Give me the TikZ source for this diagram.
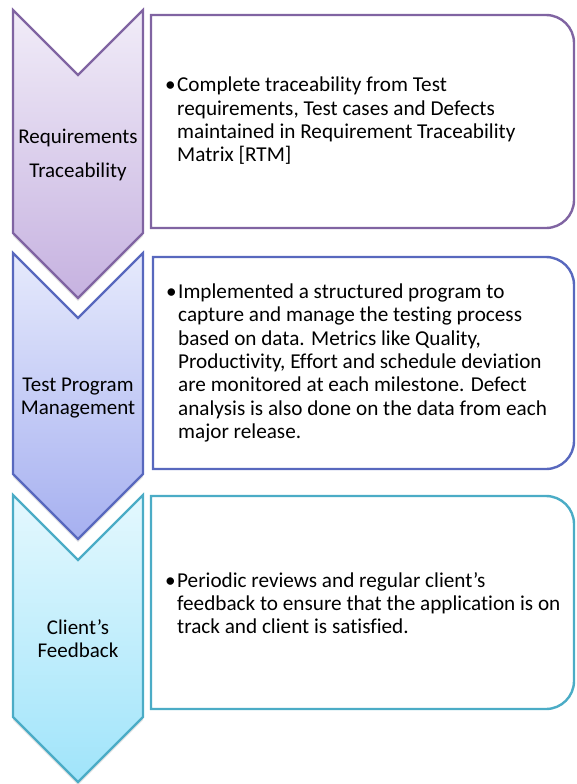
\documentclass[tikz,border=0pt]{standalone}
\usepackage{fontspec}
\setmainfont{Carlito}[Ligatures=NoCommon]
\usepackage{tikz}
\usetikzlibrary{shadows}

\definecolor{purpleline}{RGB}{128,100,162}
\definecolor{purpletop}{RGB}{241,236,248}
\definecolor{purplebot}{RGB}{198,178,224}
\definecolor{blueline}{RGB}{88,104,190}
\definecolor{bluetop}{RGB}{230,234,252}
\definecolor{bluebot}{RGB}{166,176,240}
\definecolor{aqualine}{RGB}{75,172,198}
\definecolor{aquatop}{RGB}{228,248,254}
\definecolor{aquabot}{RGB}{160,228,250}

\begin{document}
\begin{tikzpicture}[x=1pt,y=-1pt,
  chev/.style={line width=2.2pt,line join=miter,
    drop shadow={opacity=0.22,shadow xshift=0pt,shadow yshift=-3pt}},
  box/.style={line width=2.4pt,fill=white},
  chevtext/.style={align=center,font=\fontsize{21}{23}\selectfont,inner sep=0pt},
  boxtext/.style={align=left,anchor=west,inner sep=0pt,font=\fontsize{21.2}{23.3}\selectfont}]
\useasboundingbox (0,0) rectangle (576,784);

% chevrons
\draw[chev,draw=purpleline,top color=purpletop,bottom color=purplebot]
  (13,10) -- (78,75) -- (143,10) -- (143,233) -- (78,298) -- (13,233) -- cycle;
\draw[chev,draw=blueline,top color=bluetop,bottom color=bluebot]
  (13,253) -- (78,318) -- (143,253) -- (143,474) -- (78,539) -- (13,474) -- cycle;
\draw[chev,draw=aqualine,top color=aquatop,bottom color=aquabot]
  (13,495) -- (78,560) -- (143,495) -- (143,717) -- (78,782) -- (13,717) -- cycle;

\node[chevtext] (req) at (78,155) {Requirements\\[11pt]Traceability};
\node[chevtext] (prog) at (78,398) {Test Program\\Management};
\node[chevtext] (client) at (78,639) {Client’s\\Feedback};

% text boxes
\draw[box,draw=purpleline] (151,122) -- (151,15) -- (360,15) [rounded corners=28pt]
  -- (574,15) -- (574,228) -- (360,228) [sharp corners] -- (151,228) -- cycle;
\draw[box,draw=blueline] (153,363) -- (153,257) -- (360,257) [rounded corners=28pt]
  -- (574,257) -- (574,469) -- (360,469) [sharp corners] -- (153,469) -- cycle;
\draw[box,draw=aqualine] (151,602) -- (151,496) -- (360,496) [rounded corners=28pt]
  -- (574,496) -- (574,709) -- (360,709) [sharp corners] -- (151,709) -- cycle;

\node[boxtext] (reqtext) at (177,121) {\llap{\textbullet\hspace{1.5pt}}Complete traceability from Test\\
  requirements, Test cases and Defects\\
  maintained in Requirement Traceability\\
  Matrix [RTM]};
\node[boxtext] (progtext) at (178,363) {\llap{\textbullet\hspace{1.5pt}}Implemented a structured program to\\
  capture and manage the testing process\\
  based on data. Metrics like Quality,\\
  Productivity, Effort and schedule deviation\\
  are monitored at each milestone. Defect\\
  analysis is also done on the data from each\\
  major release.};
\node[boxtext] (clienttext) at (177,603) {\llap{\textbullet\hspace{1.5pt}}Periodic reviews and regular client’s\\
  feedback to ensure that the application is on\\
  track and client is satisfied.};
\end{tikzpicture}
\end{document}
